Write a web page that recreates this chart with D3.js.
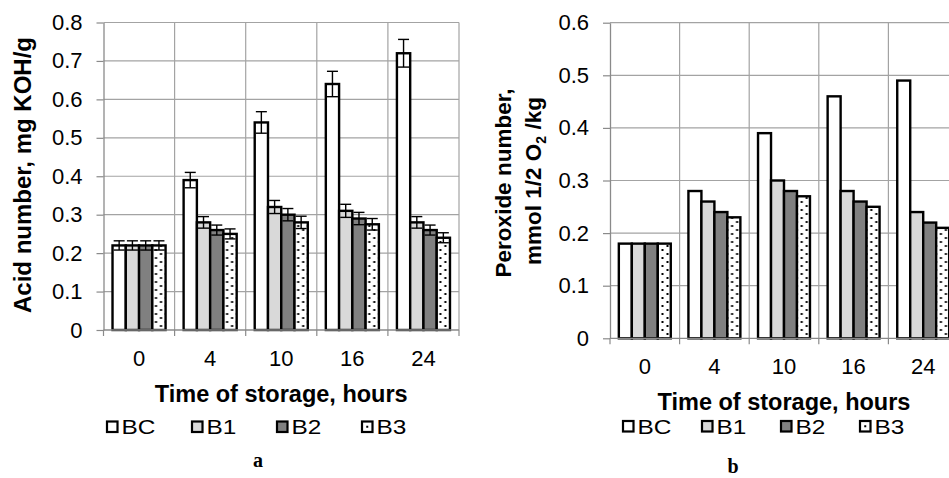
<!DOCTYPE html>
<html>
<head>
  <meta charset='utf-8'>
  <title>Acid and peroxide number during storage</title>
  <script src='https://cdn.jsdelivr.net/npm/d3@7/dist/d3.min.js'></script>
  <style>
    body { margin: 0; background: #fff; }
    text { font-family: 'Liberation Sans', Arial, sans-serif; fill: #000; }
  </style>
</head>
<body>
<script>
// categories and series
const categories = ['0', '4', '10', '16', '24'];
const series = ['BC', 'B1', 'B2', 'B3'];

// acid number, mg KOH/g (panel a)
const acidBC = [0.22, 0.39, 0.54, 0.64, 0.72];
const acidB1 = [0.22, 0.28, 0.32, 0.31, 0.28];
const acidB2 = [0.22, 0.26, 0.30, 0.29, 0.26];
const acidB3 = [0.22, 0.25, 0.28, 0.275, 0.24];
// error bars for acid number
const acidErrBC = [0.012, 0.02, 0.028, 0.033, 0.036];
const acidErrB1 = [0.012, 0.015, 0.017, 0.017, 0.015];
const acidErrB2 = [0.012, 0.013, 0.016, 0.016, 0.013];
const acidErrB3 = [0.012, 0.013, 0.016, 0.015, 0.013];

// peroxide number, mmol 1/2 O2/kg (panel b)
const peroxBC = [0.18, 0.28, 0.39, 0.46, 0.49];
const peroxB1 = [0.18, 0.26, 0.30, 0.28, 0.24];
const peroxB2 = [0.18, 0.24, 0.28, 0.26, 0.22];
const peroxB3 = [0.18, 0.23, 0.27, 0.25, 0.21];

const acidTicks = [0, 0.1, 0.2, 0.3, 0.4, 0.5, 0.6, 0.7, 0.8];
const peroxTicks = [0, 0.1, 0.2, 0.3, 0.4, 0.5, 0.6];

const fills = { BC: '#ffffff', B1: '#d9d9d9', B2: '#808080', B3: 'url(#dots)' };
const gridColor = '#a3a3a3';
const axisColor = '#8a8a8a';

const svg = d3.select('body').append('svg')
    .attr('width', 949)
    .attr('height', 478);

const pat = svg.append('defs').append('pattern')
    .attr('id', 'dots')
    .attr('patternUnits', 'userSpaceOnUse')
    .attr('width', 10)
    .attr('height', 8);
pat.append('rect').attr('width', 10).attr('height', 8).attr('fill', '#fff');
pat.append('rect').attr('x', 1.5).attr('y', 1).attr('width', 2).attr('height', 2).attr('fill', '#000');
pat.append('rect').attr('x', 6.5).attr('y', 5).attr('width', 2).attr('height', 2).attr('fill', '#000');

function fmt(d) {
    return d === 0 ? '0' : d3.format('.1f')(d);
}

function drawPanel(cfg) {
    const g = svg.append('g');
    const x0 = d3.scaleBand().domain(categories).range([cfg.left, cfg.right]).padding(0);
    const x1 = d3.scaleBand().domain(series).range([0, x0.bandwidth()])
        .paddingInner(0).paddingOuter(0.68);
    const y = d3.scaleLinear().domain([0, cfg.yMax]).range([cfg.bottom, cfg.top]);

    // horizontal gridlines
    g.append('g').selectAll('line')
        .data(cfg.ticks.filter((d) => d > 0))
        .join('line')
        .attr('x1', cfg.left).attr('x2', cfg.right)
        .attr('y1', (d) => y(d)).attr('y2', (d) => y(d))
        .attr('stroke', gridColor).attr('stroke-width', 1.2);

    // vertical gridlines at category boundaries
    const bounds = d3.range(categories.length + 1).map((i) => cfg.left + i * x0.step());
    g.append('g').selectAll('line')
        .data(bounds.slice(1))
        .join('line')
        .attr('x1', (d) => d).attr('x2', (d) => d)
        .attr('y1', cfg.top).attr('y2', cfg.bottom)
        .attr('stroke', gridColor).attr('stroke-width', 1.2);

    // y axis
    const yAxis = g.append('g')
        .attr('transform', `translate(${cfg.left},0)`)
        .call(d3.axisLeft(y).tickValues(cfg.ticks).tickFormat(fmt)
            .tickSize(7).tickSizeOuter(0).tickPadding(14));
    yAxis.select('.domain').attr('stroke', axisColor).attr('stroke-width', 1.3);
    yAxis.selectAll('.tick line').attr('stroke', axisColor).attr('stroke-width', 1.2);
    yAxis.selectAll('.tick text')
        .attr('font-family', "'Liberation Sans', Arial, sans-serif")
        .attr('font-size', 22).attr('fill', '#000');

    // bars
    const groups = g.append('g').selectAll('g')
        .data(categories)
        .join('g')
        .attr('transform', (d) => `translate(${x0(d)},0)`);
    groups.selectAll('rect')
        .data((d, i) => series.map((s) => ({ s: s, v: cfg.values[s][i] })))
        .join('rect')
        .attr('x', (d) => x1(d.s))
        .attr('y', (d) => y(d.v))
        .attr('width', x1.bandwidth())
        .attr('height', (d) => y(0) - y(d.v))
        .attr('fill', (d) => fills[d.s])
        .attr('stroke', '#000')
        .attr('stroke-width', 2.4);

    // error bars
    if (cfg.errors) {
        const eb = groups.selectAll('g.err')
            .data((d, i) => series.map((s) => ({ s: s, v: cfg.values[s][i], e: cfg.errors[s][i] })))
            .join('g')
            .attr('class', 'err')
            .attr('transform', (d) => `translate(${x1(d.s) + x1.bandwidth() / 2},0)`)
            .attr('stroke', '#000')
            .attr('stroke-width', 1.4);
        eb.append('line')
            .attr('y1', (d) => y(d.v - d.e)).attr('y2', (d) => y(d.v + d.e));
        eb.append('line')
            .attr('x1', -5.5).attr('x2', 5.5)
            .attr('y1', (d) => y(d.v + d.e)).attr('y2', (d) => y(d.v + d.e));
        eb.append('line')
            .attr('x1', -5.5).attr('x2', 5.5)
            .attr('y1', (d) => y(d.v - d.e)).attr('y2', (d) => y(d.v - d.e));
    }

    // x axis line and boundary ticks
    g.append('line')
        .attr('x1', cfg.left).attr('x2', cfg.right)
        .attr('y1', y(0)).attr('y2', y(0))
        .attr('stroke', axisColor).attr('stroke-width', 1.3);
    g.append('g').selectAll('line')
        .data(bounds)
        .join('line')
        .attr('x1', (d) => d).attr('x2', (d) => d)
        .attr('y1', y(0)).attr('y2', y(0) + 6)
        .attr('stroke', axisColor).attr('stroke-width', 1.2);
    const xAxis = g.append('g')
        .attr('transform', `translate(0,${y(0)})`)
        .call(d3.axisBottom(x0).tickSize(0).tickPadding(20));
    xAxis.select('.domain').remove();
    xAxis.selectAll('.tick text')
        .attr('font-family', "'Liberation Sans', Arial, sans-serif")
        .attr('font-size', 22).attr('fill', '#000');

    // axis titles
    g.append('text')
        .attr('x', (cfg.left + cfg.right) / 2)
        .attr('y', cfg.titleBaseline)
        .attr('text-anchor', 'middle')
        .attr('font-weight', 'bold')
        .attr('font-size', 23.5)
        .text('Time of storage, hours');
    cfg.yTitle(g);

    // legend
    const leg = g.append('g').selectAll('g')
        .data(series)
        .join('g')
        .attr('transform', (d, i) => `translate(${cfg.legendX + i * cfg.legendStep},${cfg.legendY})`);
    leg.append('rect')
        .attr('x', 0).attr('y', 0).attr('width', 10.5).attr('height', 10.5)
        .attr('fill', (d) => d === 'B3' ? '#fff' : fills[d])
        .attr('stroke', '#000').attr('stroke-width', 2.2);
    leg.filter((d) => d === 'B3').append('rect')
        .attr('x', 4.25).attr('y', 4.25).attr('width', 2).attr('height', 2).attr('fill', '#000');
    leg.append('text')
        .attr('transform', 'translate(14.5,12.8) scale(1.22,1)')
        .attr('font-size', 20)
        .text((d) => d);

    // panel letter
    g.append('text')
        .attr('x', cfg.tagX).attr('y', cfg.tagY)
        .attr('text-anchor', 'middle')
        .attr('font-weight', 'bold')
        .attr('font-size', 20)
        .style('font-family', "'Liberation Serif', 'Times New Roman', serif")
        .text(cfg.tag);
}

drawPanel({
    left: 103.5, right: 459, top: 22.5, bottom: 330, yMax: 0.8,
    ticks: acidTicks,
    values: { BC: acidBC, B1: acidB1, B2: acidB2, B3: acidB3 },
    errors: { BC: acidErrBC, B1: acidErrB1, B2: acidErrB2, B3: acidErrB3 },
    titleBaseline: 402,
    yTitle: (g) => g.append('text')
        .attr('transform', 'translate(30.5,175) rotate(-90)')
        .attr('text-anchor', 'middle')
        .attr('font-weight', 'bold')
        .attr('font-size', 24)
        .text('Acid number, mg KOH/g'),
    legendX: 107, legendStep: 85, legendY: 421.5,
    tag: 'a', tagX: 258, tagY: 467
});

drawPanel({
    left: 610, right: 958, top: 22.7, bottom: 338.3, yMax: 0.6,
    ticks: peroxTicks,
    values: { BC: peroxBC, B1: peroxB1, B2: peroxB2, B3: peroxB3 },
    errors: null,
    titleBaseline: 410,
    yTitle: (g) => {
        g.append('text')
            .attr('transform', 'translate(510.5,183) rotate(-90)')
            .attr('text-anchor', 'middle')
            .attr('font-weight', 'bold')
            .attr('font-size', 22.5)
            .text('Peroxide number,');
        const t = g.append('text')
            .attr('transform', 'translate(540.5,181) rotate(-90)')
            .attr('text-anchor', 'middle')
            .attr('font-weight', 'bold')
            .attr('font-size', 22.5);
        t.append('tspan').text('mmol 1/2 O');
        t.append('tspan').attr('font-size', 14).attr('dy', 5).text('2');
        t.append('tspan').attr('dy', -5).text(' /kg');
    },
    legendX: 623, legendStep: 79, legendY: 421,
    tag: 'b', tagX: 733, tagY: 473
});
</script>
</body>
</html>
